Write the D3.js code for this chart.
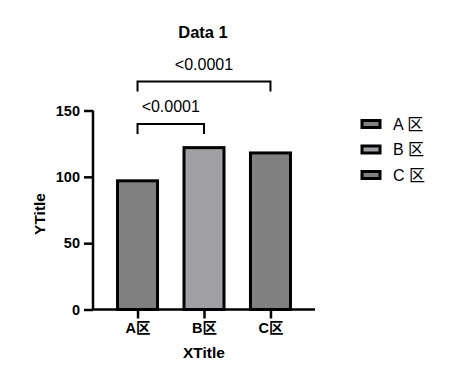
<!DOCTYPE html>
<html>
<head>
<meta charset="utf-8">
<script src="https://cdn.jsdelivr.net/npm/d3@7"></script>
<style>
  body { margin: 0; background: #fff; }
  text { font-family: "Liberation Sans", Arial, "Noto Sans CJK SC", sans-serif; }
</style>
</head>
<body>
<svg id="chart" width="464" height="381"></svg>
<script>
const categories = ["A区", "B区", "C区"];
const legendLabels = ["A 区", "B 区", "C 区"];
const values = [97, 122, 118];
const colors = ["#808080", "#a0a0a4", "#808080"];
const yTicks = [0, 50, 100, 150];
// significance brackets: [from, to, label]
const comparisons = [["A区", "B区", "<0.0001"], ["A区", "C区", "<0.0001"]];

const svg = d3.select("#chart");

const xScale = d3.scalePoint().domain(categories).range([93, 315]).padding(0.67);
const yScale = d3.scaleLinear().domain([0, 150]).range([309.5, 110.5]);
const barWidth = 40;

// bars
svg.append("g").selectAll("rect")
    .data(values)
    .enter()
    .append("rect")
        .attr("x", (d, i) => xScale(categories[i]) - barWidth / 2)
        .attr("y", d => yScale(d))
        .attr("width", barWidth)
        .attr("height", d => yScale(0) - yScale(d))
        .attr("fill", (d, i) => colors[i])
        .attr("stroke", "#000")
        .attr("stroke-width", 3);

// axes
const xAxis = svg.append("g")
    .attr("transform", `translate(0, ${yScale(0)})`)
    .call(d3.axisBottom(xScale).tickSize(9).tickPadding(4));
xAxis.select(".domain").attr("d", "M93,0H315").attr("stroke-width", 2.5);
xAxis.selectAll(".tick line").attr("stroke-width", 2.5);
xAxis.selectAll("text").attr("font-size", 14.5).attr("font-weight", "bold").attr("fill", "#000");

const yAxis = svg.append("g")
    .attr("transform", "translate(93, 0)")
    .call(d3.axisLeft(yScale).tickValues(yTicks).tickSize(9).tickPadding(4));
yAxis.select(".domain").attr("d", `M0,${yScale(150)}V${yScale(0)}`).attr("stroke-width", 2.5);
yAxis.selectAll(".tick line").attr("stroke-width", 2.5);
yAxis.selectAll("text").attr("font-size", 14.5).attr("font-weight", "bold").attr("fill", "#000");

// titles
svg.append("text")
    .attr("x", 203).attr("y", 38)
    .attr("text-anchor", "middle")
    .attr("font-size", 16.5).attr("font-weight", "bold")
    .text("Data 1");

svg.append("text")
    .attr("x", 204).attr("y", 358)
    .attr("text-anchor", "middle")
    .attr("font-size", 15.5).attr("font-weight", "bold")
    .text("XTitle");

svg.append("text")
    .attr("transform", "translate(45, 214) rotate(-90)")
    .attr("text-anchor", "middle")
    .attr("font-size", 15.5).attr("font-weight", "bold")
    .text("YTitle");

// brackets
const bracketY = [124, 81.5];
const brackets = svg.append("g");
comparisons.forEach((c, i) => {
    const x1 = xScale(c[0]), x2 = xScale(c[1]), y = bracketY[i];
    brackets.append("path")
        .attr("d", `M${x1},${y + 10}V${y}H${x2}V${y + 10}`)
        .attr("fill", "none")
        .attr("stroke", "#000")
        .attr("stroke-width", 2);
    brackets.append("text")
        .attr("x", (x1 + x2) / 2)
        .attr("y", y - 12)
        .attr("text-anchor", "middle")
        .attr("font-size", 16)
        .text(c[2]);
});

// legend
const legend = svg.append("g").attr("transform", "translate(362, 124)");
legendLabels.forEach((label, i) => {
    const row = legend.append("g").attr("transform", `translate(0, ${i * 25.5})`);
    row.append("rect")
        .attr("x", 0).attr("y", -3.5)
        .attr("width", 18).attr("height", 7)
        .attr("fill", colors[i])
        .attr("stroke", "#000")
        .attr("stroke-width", 3);
    row.append("text")
        .attr("x", 31).attr("y", 5.5)
        .attr("font-size", 16)
        .text(label);
});
</script>
</body>
</html>
